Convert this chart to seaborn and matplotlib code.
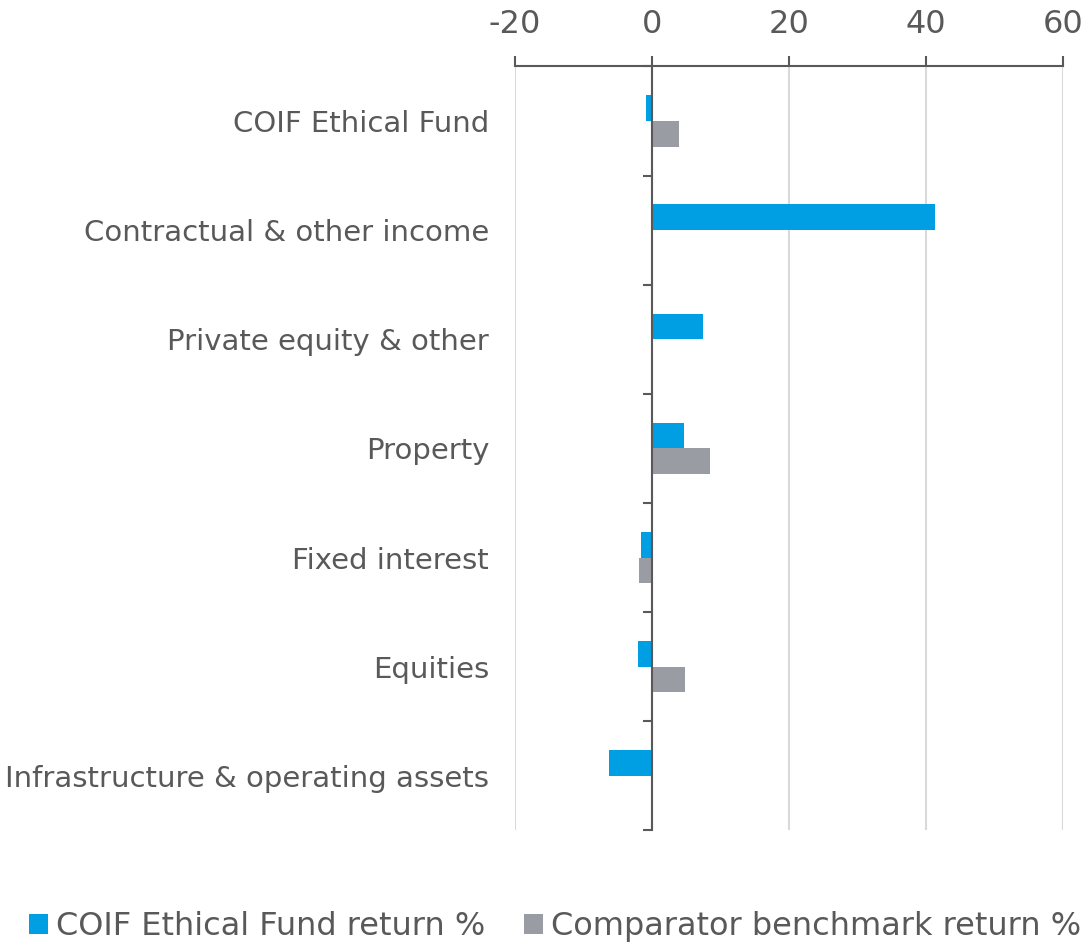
import numpy as np
import pandas as pd
import seaborn as sns
import matplotlib.pyplot as plt
from matplotlib.ticker import FixedLocator

categories = ['COIF Ethical Fund', 'Contractual & other income', 'Private equity & other',
              'Property', 'Fixed interest', 'Equities', 'Infrastructure & operating assets']
fund_return = [-0.8, 41.3, 7.5, 4.7, -1.5, -2.0, -6.3]
benchmark_return = [4.0, 0.0, 0.0, 8.5, -1.8, 4.8, 0.0]
series = ['COIF Ethical Fund return %', 'Comparator benchmark return %']
x_ticks = [-20, 0, 20, 40, 60]

df = pd.DataFrame({
    'category': categories * 2,
    'value': fund_return + benchmark_return,
    'series': [series[0]] * len(categories) + [series[1]] * len(categories),
})

sns.set_style('white')
plt.rcParams['font.family'] = ['DejaVu Sans']
txt = '#595959'

fig = plt.figure(figsize=(10.88, 9.48), dpi=100)
ax = fig.add_axes([0.473, 0.124, 0.504, 0.806])

sns.barplot(data=df, y='category', x='value', hue='series', orient='h',
            palette=['#009FE3', '#9A9CA3'], saturation=1, width=0.47,
            linewidth=0, edgecolor='none', ax=ax, legend=True)

ax.set_xlim(-20, 60)
ax.set_ylim(6.5, -0.5)
ax.set_xticks(x_ticks)
ax.set_xticklabels([str(t) for t in x_ticks])
ax.xaxis.tick_top()
ax.grid(axis='x', color='#d9d9d9', linewidth=1.5)
ax.set_axisbelow(True)
ax.set_xlabel('')
ax.set_ylabel('')

for s in ['right', 'bottom']:
    ax.spines[s].set_visible(False)
ax.spines['top'].set_color(txt)
ax.spines['top'].set_linewidth(1.5)
ax.spines['left'].set_position(('data', 0))
ax.spines['left'].set_color(txt)
ax.spines['left'].set_linewidth(1.5)

ax.tick_params(axis='x', which='major', top=True, direction='out', length=7, width=1.5,
               color=txt, labelcolor=txt, labelsize=23, pad=12)
ax.tick_params(axis='y', which='major', length=0, labelcolor=txt, labelsize=21, pad=117)
ax.yaxis.set_minor_locator(FixedLocator(np.arange(-0.5, len(categories) + 0.5, 1.0)))
ax.tick_params(axis='y', which='minor', left=True, direction='out', length=6.5,
               width=1.5, color=txt)

handles, labels = ax.get_legend_handles_labels()
ax.get_legend().remove()
fig.legend(handles, labels, loc='lower center', ncol=2, frameon=False,
           fontsize=23, labelcolor=txt, bbox_to_anchor=(0.51, -0.024),
           handlelength=0.6, handleheight=0.6, handletextpad=0.25, columnspacing=1.2)

fig.savefig('out.png', dpi=100, facecolor='white')
